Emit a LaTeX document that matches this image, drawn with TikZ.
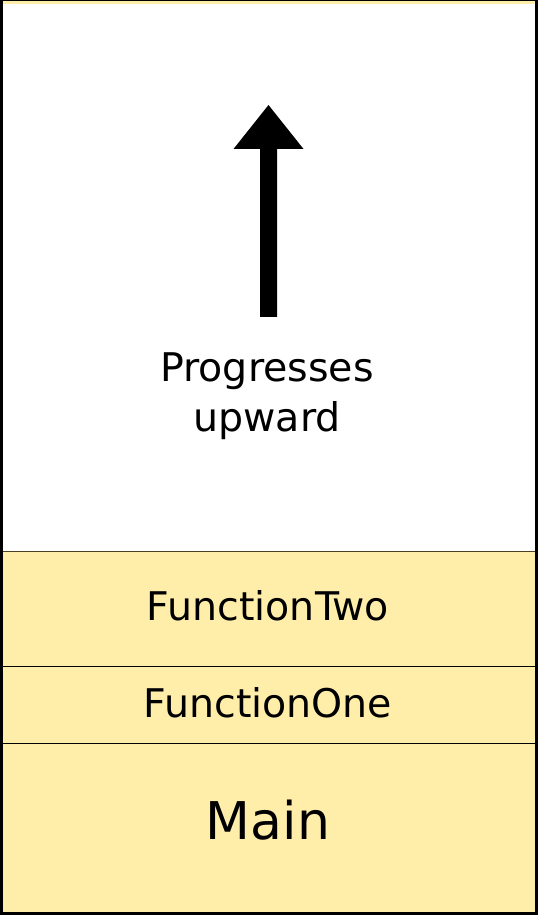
\documentclass[tikz,border=0pt]{standalone}
\usepackage{fontspec}
\setmainfont{DejaVu Sans}
\definecolor{frameyellow}{HTML}{FFEEAA}
\definecolor{seam}{HTML}{4D4020}
\tikzset{
  label text/.style={inner sep=0pt, font=\fontsize{39.5}{50}\selectfont, align=center},
  main text/.style={inner sep=0pt, font=\fontsize{52}{60}\selectfont},
  divider/.style={line width=1pt},
}
\begin{document}
\begin{tikzpicture}[x=1pt,y=1pt]
  \useasboundingbox (0,0) rectangle (538,915);
  % stack background and empty upper area
  \fill[frameyellow] (0,0) rectangle (538,915);
  \fill[white] (3,363) rectangle (535,911);
  % frame dividers between stack entries
  \coordinate (sepA-l) at (3,363);   \coordinate (sepA-r) at (535,363);
  \coordinate (sepB-l) at (3,248);   \coordinate (sepB-r) at (535,248);
  \coordinate (sepC-l) at (3,171);   \coordinate (sepC-r) at (535,171);
  \draw[divider, seam] (sepA-l) -- (sepA-r);
  \draw[divider] (sepB-l) -- (sepB-r);
  \draw[divider] (sepC-l) -- (sepC-r);
  % outer frame
  \fill[black] (0,0) rectangle (3,915);
  \fill[black] (535,0) rectangle (538,915);
  \fill[black] (0,0) rectangle (538,3);
  \fill[black] (0,914) rectangle (538,915);
  % growth arrow
  \coordinate (tail) at (268.5,598);
  \coordinate (tip) at (268.5,810);
  \fill[black] ([xshift=-8.5pt]tail) -- ([xshift=-8.5pt,yshift=-44pt]tip)
    -- ([xshift=-35pt,yshift=-44pt]tip) -- (tip)
    -- ([xshift=35pt,yshift=-44pt]tip) -- ([xshift=8.5pt,yshift=-44pt]tip)
    -- ([xshift=8.5pt]tail) -- cycle;
  % labels
  \node[label text, anchor=base] (progress) at (267,483) {Progresses\\upward};
  \node[label text, anchor=base] (two) at (268,294) {FunctionTwo};
  \node[label text, anchor=base] (one) at (268,197) {FunctionOne};
  \node[main text, anchor=base] (main) at (268,75) {Main};
\end{tikzpicture}
\end{document}
